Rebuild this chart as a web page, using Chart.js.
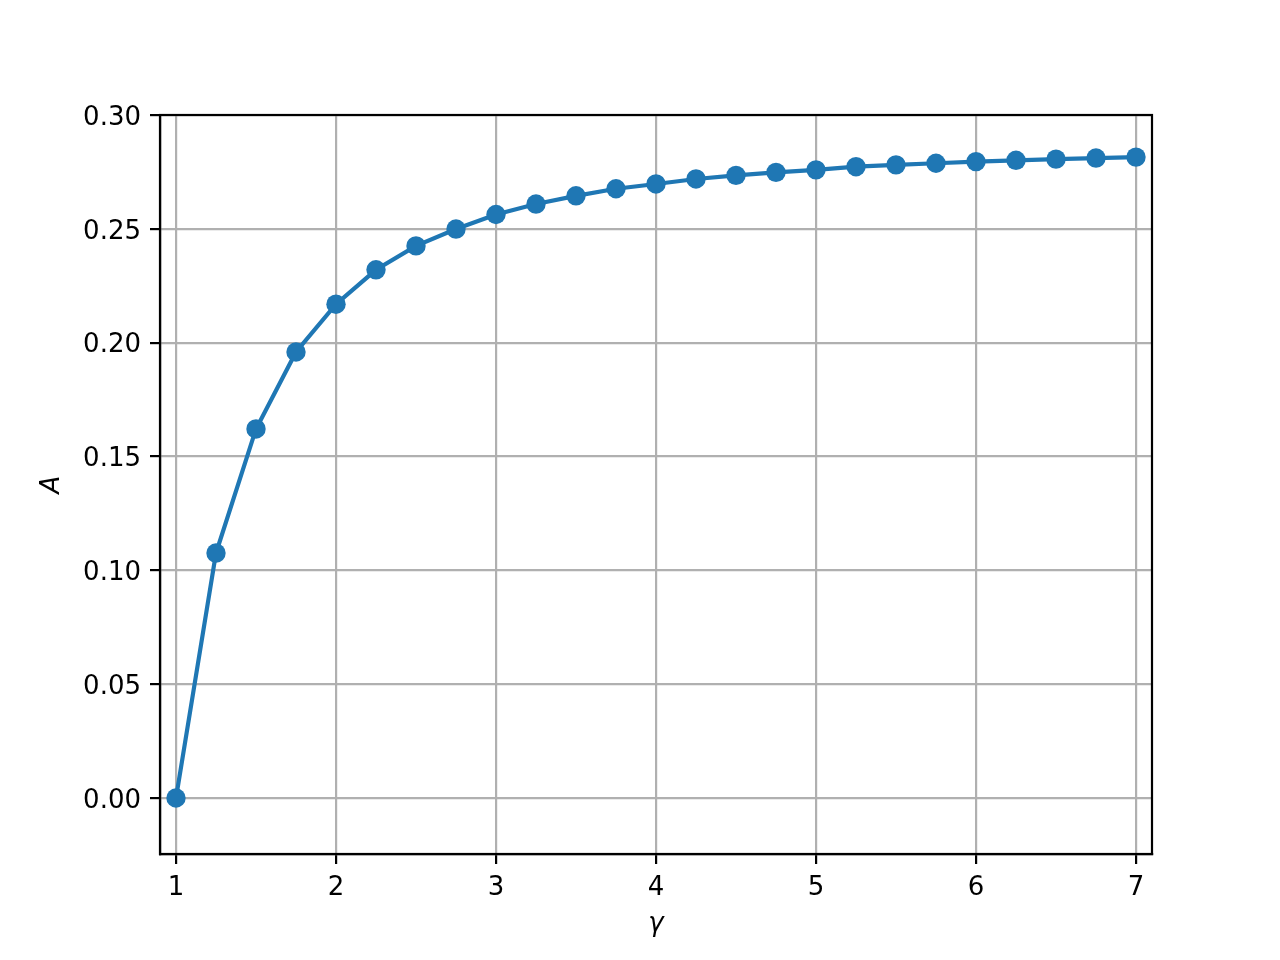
<!DOCTYPE html>
<html>
<head>
<meta charset="utf-8">
<script src="https://cdn.jsdelivr.net/npm/chart.js@4/dist/chart.umd.min.js"></script>
<style>
  html, body { margin: 0; padding: 0; background: #fff; }
  canvas { display: block; }
</style>
</head>
<body>
<canvas id="c" width="1280" height="960"></canvas>
<script>
// Data
const gamma = [1, 1.25, 1.5, 1.75, 2, 2.25, 2.5, 2.75, 3, 3.25, 3.5, 3.75, 4, 4.25, 4.5, 4.75, 5, 5.25, 5.5, 5.75, 6, 6.25, 6.5, 6.75, 7];
const A = [0, 0.1076, 0.1621, 0.1959, 0.2169, 0.2320, 0.2425, 0.2499, 0.2563, 0.2609, 0.2645, 0.2676, 0.2697, 0.2719, 0.2735, 0.2748, 0.2759, 0.2773, 0.2781, 0.2788, 0.2795, 0.2801, 0.2806, 0.2811, 0.2815];
const xTicks = [1, 2, 3, 4, 5, 6, 7];
const yTicks = [0, 0.05, 0.10, 0.15, 0.20, 0.25, 0.30];
const xLabel = 'γ';
const yLabel = 'A';

const points = gamma.map((g, i) => ({ x: g, y: A[i] }));

const FONT = { family: '"DejaVu Sans", sans-serif', size: 26 };

const frame = {
  id: 'frame',
  afterDatasetsDraw(chart) {
    const { ctx, chartArea: a } = chart;
    ctx.save();
    ctx.strokeStyle = '#000';
    ctx.lineWidth = 2.2;
    ctx.strokeRect(a.left, a.top, a.right - a.left, a.bottom - a.top);
    ctx.restore();
  }
};

new Chart(document.getElementById('c'), {
  type: 'scatter',
  data: {
    datasets: [{
      data: points,
      showLine: true,
      borderColor: '#1f77b4',
      backgroundColor: '#1f77b4',
      borderWidth: 4.2,
      pointRadius: 9.7,
      pointHoverRadius: 9.7,
      pointBorderWidth: 0,
      pointBackgroundColor: '#1f77b4',
      tension: 0
    }]
  },
  options: {
    responsive: false,
    devicePixelRatio: 1,
    animation: false,
    layout: { padding: { left: 0, right: 128, top: 115, bottom: 0 } },
    plugins: { legend: { display: false }, tooltip: { enabled: false } },
    scales: {
      x: {
        type: 'linear',
        min: 0.9,
        max: 7.1,
        afterBuildTicks: s => { s.ticks = xTicks.map(v => ({ value: v })); },
        afterFit: s => { s.height = 106; },
        ticks: { color: '#000', font: FONT, padding: 9, maxRotation: 0, callback: v => String(v) },
        grid: { color: '#b0b0b0', lineWidth: 2.2, tickLength: 10, tickColor: '#000', tickWidth: 2.2 },
        border: { display: true, color: '#000', width: 2.2 },
        title: { display: true, text: xLabel, color: '#000', font: { ...FONT, style: 'italic' }, padding: { top: 0, bottom: 20 } }
      },
      y: {
        type: 'linear',
        min: -0.0246,
        max: 0.30,
        afterBuildTicks: s => { s.ticks = yTicks.map(v => ({ value: v })); },
        afterFit: s => { s.width = 160; },
        ticks: { color: '#000', font: FONT, padding: 9, labelOffset: 3, callback: v => Number(v).toFixed(2) },
        grid: { color: '#b0b0b0', lineWidth: 2.2, tickLength: 10, tickColor: '#000', tickWidth: 2.2 },
        border: { display: true, color: '#000', width: 2.2 },
        title: { display: true, text: yLabel, color: '#000', font: { ...FONT, style: 'italic' }, padding: { top: 37, bottom: 0 } }
      }
    }
  },
  plugins: [frame]
});
</script>
</body>
</html>
